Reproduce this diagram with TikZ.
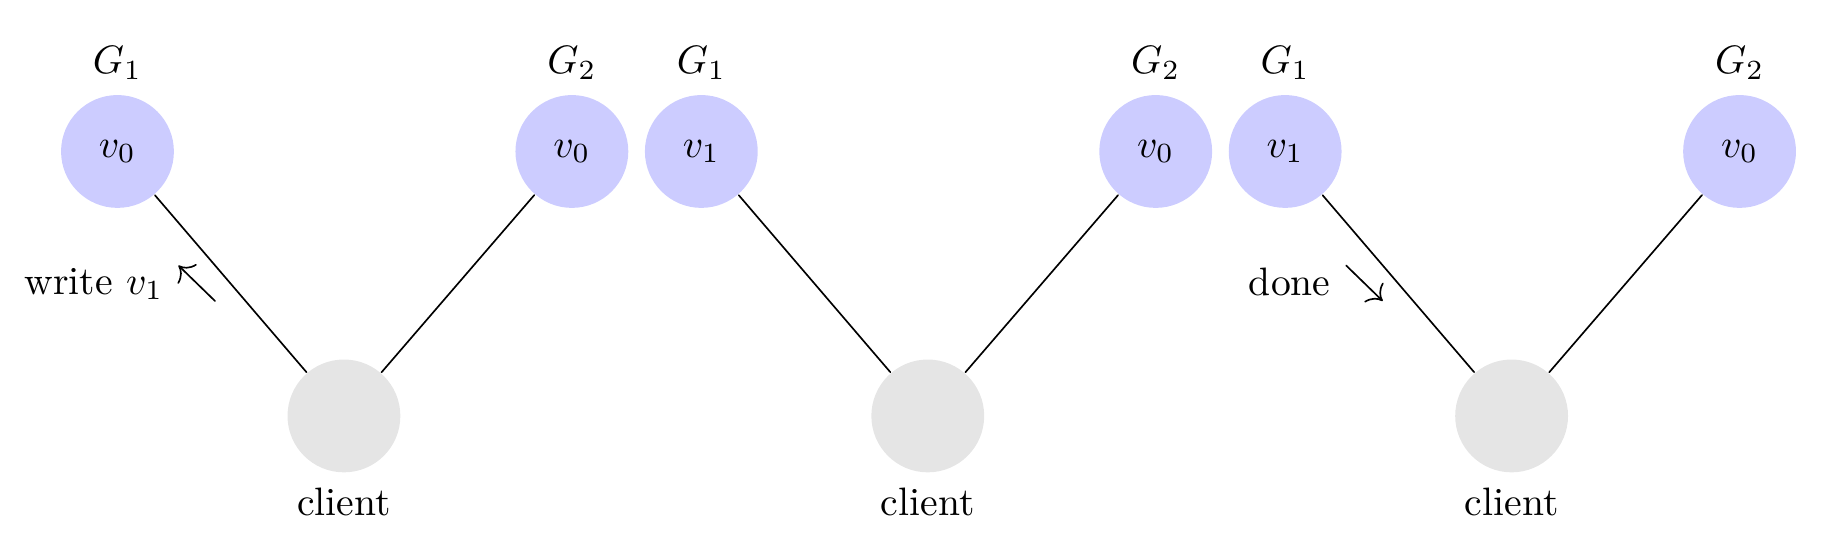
\documentclass[tikz,border=0pt]{standalone}
\usepackage{amsmath,amssymb}
\usetikzlibrary{calc,arrows.meta}

\begin{document}
\begin{tikzpicture}[line join=round, line cap=round,>={To[scale=1.6]},line width=0.6pt,
	server/.style={circle,fill=blue!20,minimum size=1cm,inner sep=0pt,scale=1.434},
	client/.style={circle,fill=gray!20,minimum size=1cm,inner sep=0pt,scale=1.434},
	txt/.style={scale=1.434},
	every label/.style={scale=1.434}]
	\useasboundingbox (0,0) rectangle (23.41,7.01);
	% ba buoc
	\foreach \i/\v in {0/0,1/1,2/1}{
		\coordinate (o\i) at ($(0,0)+(\i*7.42,0)$);
		\node[server,label=above:$G_1$] (a\i) at ($(o\i)+(1.493,5.085)$) {$v_{\v}$};
		\node[server,label=above:$G_2$] (b\i) at ($(o\i)+(7.268,5.085)$) {$v_0$};
		\node[client,label=below:client] (c\i) at ($(o\i)+(4.371,1.724)$) {};
		\draw (a\i)--(c\i)--(b\i);
	}
	% ghi
	\coordinate (p1) at ($(a0)+(1.239,-1.9)$);
	\coordinate (q1) at ($(a0)+(0.775,-1.449)$);
	\draw[->](p1)--(q1);
	\node[txt] (w) at (1.194,3.401) {write $v_1$};
	% xong
	\coordinate (p2) at ($(a2)+(0.775,-1.449)$);
	\coordinate (q2) at ($(a2)+(1.239,-1.9)$);
	\draw[->](p2)--(q2);
	\node[txt] (d) at (16.391,3.427) {done};
\end{tikzpicture}
\end{document}
